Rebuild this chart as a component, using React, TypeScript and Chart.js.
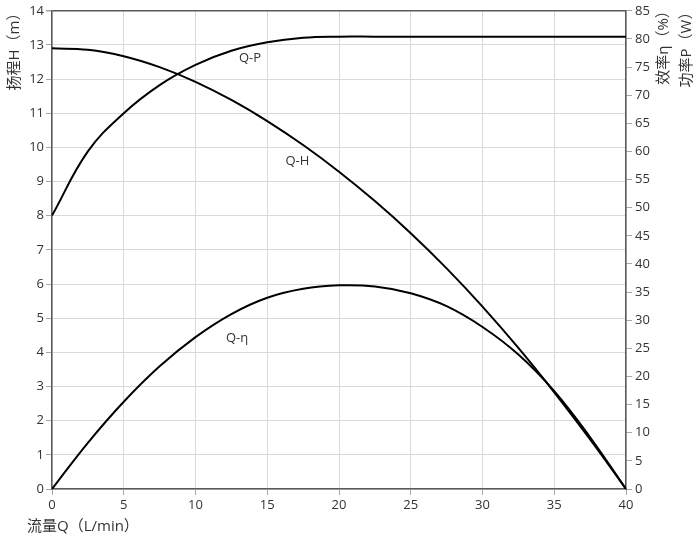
import React, { useEffect, useRef } from "react";
import { Chart, registerables } from "chart.js";

Chart.register(...registerables);

const qValues = [0, 2.5, 5, 7.5, 10, 12.5, 15, 17.5, 20, 22.5, 25, 27.5, 30, 32.5, 35, 37.5, 40];
const headValues = [12.9, 12.86, 12.67, 12.35, 11.92, 11.39, 10.77, 10.07, 9.29, 8.43, 7.49, 6.46, 5.34, 4.13, 2.83, 1.45, 0];
const effValues = [0, 8.2, 15.5, 21.8, 27.0, 31.1, 34.0, 35.6, 36.2, 36.0, 34.8, 32.5, 28.8, 23.9, 17.4, 9.2, 0];
const powerValues = [48.6, 60.0, 66.8, 71.8, 75.4, 77.9, 79.4, 80.2, 80.4, 80.4, 80.4, 80.4, 80.4, 80.4, 80.4, 80.4, 80.4];

const curveLabels = ["Q-P", "Q-H", "Q-η"];
const labelQ = [13.8, 17.1, 12.9];
const labelH = [12.6, 9.6, 4.4];

const xTitle = "流量Q（L/min）";
const leftTitle = "扬程H（m）";
const rightTitle1 = "效率η（%）";
const rightTitle2 = "功率P（W）";

const FONT = "'Open Sans', 'Noto Sans CJK SC', sans-serif";
const TEXT = "#333333";
const AXIS = "#595959";
const GRID = "#d9d9d9";

export default function App() {
  const ref = useRef<HTMLCanvasElement | null>(null);
  useEffect(() => {
    document.body.style.margin = "0";
    const canvas = ref.current!;
    const toPts = (ys: number[]) => qValues.map((q, i) => ({ x: q, y: ys[i] }));
    const textPlugin = {
      id: "texts",
      afterDraw(chart: any) {
        const ctx = chart.ctx;
        const xs = chart.scales.x;
        const yl = chart.scales.y;
        ctx.save();
        ctx.fillStyle = TEXT;
        ctx.font = `13px ${FONT}`;
        ctx.textAlign = "center";
        ctx.textBaseline = "middle";
        curveLabels.forEach((t, i) => {
          ctx.fillText(t, xs.getPixelForValue(labelQ[i]), yl.getPixelForValue(labelH[i]));
        });
        ctx.font = `15px ${FONT}`;
        ctx.textAlign = "left";
        ctx.fillText(xTitle, 27, 527);
        const vt = (t: string, x: number, y: number) => {
          ctx.save();
          ctx.translate(x, y);
          ctx.rotate(-Math.PI / 2);
          ctx.textAlign = "center";
          ctx.fillText(t, 0, 0);
          ctx.restore();
        };
        vt(leftTitle, 15, 48);
        vt(rightTitle1, 664, 44);
        vt(rightTitle2, 687, 46);
        ctx.restore();
      },
    };
    const line = (label: string, ys: number[], axis: string) => ({
      label,
      data: toPts(ys),
      yAxisID: axis,
      borderColor: "#000",
      borderWidth: 2,
      pointRadius: 0,
      tension: 0.4,
    });
    const chart = new Chart(canvas, {
      type: "line",
      data: {
        datasets: [
          line("Q-H", headValues, "y"),
          line("Q-η", effValues, "y2"),
          line("Q-P", powerValues, "y2"),
        ],
      },
      options: {
        animation: false,
        responsive: false,
        maintainAspectRatio: false,
        layout: { padding: { top: 9, left: 0, right: 0, bottom: 0 } },
        plugins: { legend: { display: false }, tooltip: { enabled: false } },
        scales: {
          x: {
            type: "linear",
            min: 0,
            max: 40,
            ticks: { stepSize: 5, color: TEXT, font: { family: FONT, size: 13 }, padding: 2 },
            grid: { color: GRID, tickColor: "#a6a6a6", tickLength: 6 },
            border: { color: AXIS, width: 1.5 },
            afterFit: (s: any) => { s.height = 54; },
          },
          y: {
            position: "left",
            min: 0,
            max: 14,
            ticks: { stepSize: 1, color: TEXT, font: { family: FONT, size: 13 }, padding: 2 },
            grid: {
              color: (c: any) => (c.tick && c.tick.value === 14 ? AXIS : GRID),
              lineWidth: (c: any) => (c.tick && c.tick.value === 14 ? 1.5 : 1),
              tickColor: "#a6a6a6",
              tickLength: 6,
            },
            border: { color: AXIS, width: 1.5 },
            afterFit: (s: any) => { s.width = 52; },
          },
          y2: {
            position: "right",
            min: 0,
            max: 85,
            ticks: { stepSize: 5, color: TEXT, font: { family: FONT, size: 13 }, padding: 3 },
            grid: { drawOnChartArea: false, tickColor: "#a6a6a6", tickLength: 6 },
            border: { color: AXIS, width: 1.5 },
            afterFit: (s: any) => { s.width = 74; },
          },
        },
      },
      plugins: [textPlugin],
    } as any);
    return () => chart.destroy();
  }, []);
  return <canvas ref={ref} width={700} height={543} style={{ display: "block" }} />;
}
